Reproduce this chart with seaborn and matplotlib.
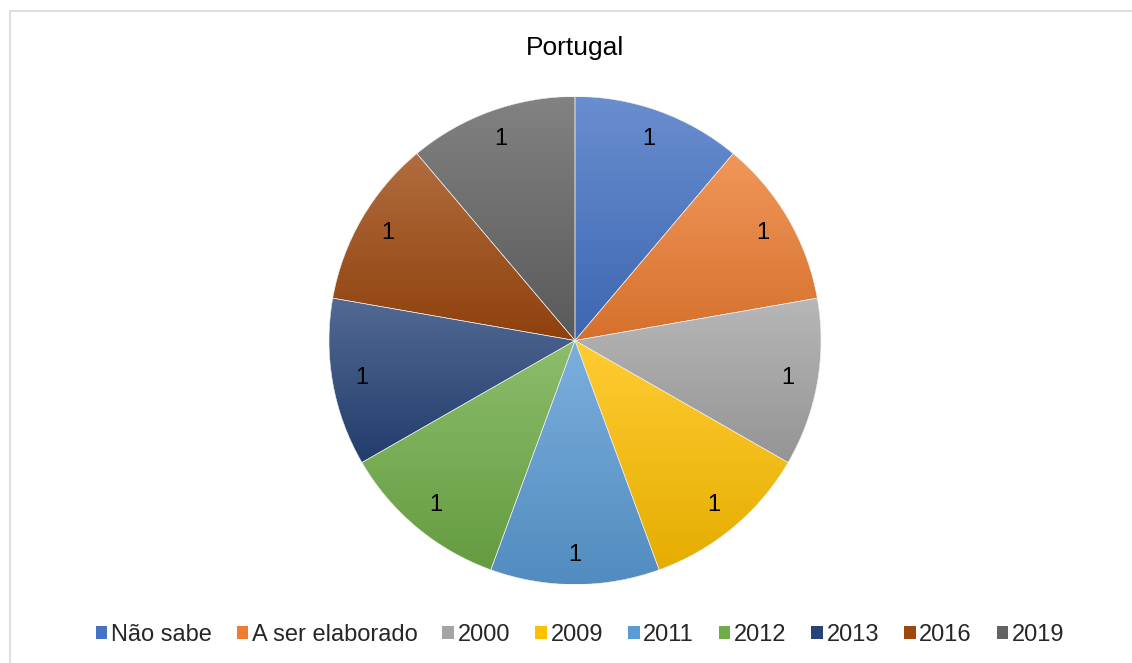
import numpy as np
import matplotlib
matplotlib.use("Agg")
import matplotlib.pyplot as plt
import matplotlib.colors as mcolors
from matplotlib.patches import Patch, Rectangle
import seaborn as sns

# --- données ---
categorias = ["Não sabe", "A ser elaborado", "2000", "2009", "2011", "2012", "2013", "2016", "2019"]
valores = [1, 1, 1, 1, 1, 1, 1, 1, 1]
cores = ["#4472C4", "#ED7D31", "#A5A5A5", "#FFC000", "#5B9BD5",
         "#70AD47", "#264478", "#9E480E", "#636363"]
titulo = "Portugal"

sns.set_theme(style="white")
plt.rcParams['font.family'] = ['Liberation Sans', 'DejaVu Sans']

fig = plt.figure(figsize=(11.32, 6.63), dpi=100)
fig.patch.set_facecolor("white")

# cadre du graphique
fig.patches.append(Rectangle((10 / 1132, -0.05), 1.2, (663 - 11) / 663 + 0.05,
                             transform=fig.transFigure, facecolor="none",
                             edgecolor="#D9D9D9", linewidth=1.2))

cx, cy, rx, ry = 575 / 1132, (663 - 340.5) / 663, 246, 244
ax = fig.add_axes([cx - rx / 1132, cy - ry / 663, 2 * rx / 1132, 2 * ry / 663])

wedges, _, autotexts = ax.pie(valores, colors=cores, startangle=90, counterclock=False,
                              autopct=lambda p: "1", pctdistance=0.88,
                              wedgeprops=dict(edgecolor="#EDEDED", linewidth=0.4),
                              textprops=dict(fontsize=17, color="black"))
ax.set_aspect("auto")
ax.axis("off")

# dégradé vertical dans chaque secteur
for w, c in zip(wedges, cores):
    base = np.array(mcolors.to_rgb(c))
    top = base + (1 - base) * 0.2
    bot = base * 0.9
    verts = w.get_patch_transform().transform(w.get_path().vertices)
    y0, y1 = verts[:, 1].min(), verts[:, 1].max()
    x0, x1 = verts[:, 0].min(), verts[:, 0].max()
    t = np.linspace(0, 1, 256)[:, None]
    img = (top[None, :] * (1 - t) + bot[None, :] * t)[:, None, :]
    im = ax.imshow(img, extent=[x0, x1, y0, y1], origin="upper", aspect="auto",
                   interpolation="bilinear", zorder=w.get_zorder())
    im.set_clip_path(w)
    w.set_facecolor("none")
    w.set_zorder(w.get_zorder() + 0.5)
for t_ in autotexts:
    t_.set_zorder(5)

ax.set_xlim(-1, 1)
ax.set_ylim(-1, 1)

fig.text(575 / 1132, 1 - 48 / 663, titulo, ha="center", va="center", fontsize=19, color="#000000")

handles = [Patch(facecolor=c, edgecolor="none") for c in cores]
fig.legend(handles, categorias, loc="center", bbox_to_anchor=(580 / 1132, 1 - 635 / 663),
           ncol=9, frameon=False, fontsize=17, handlelength=0.5, handleheight=0.5,
           handletextpad=0.15, columnspacing=1.05)

plt.savefig("out.png", dpi=100)
